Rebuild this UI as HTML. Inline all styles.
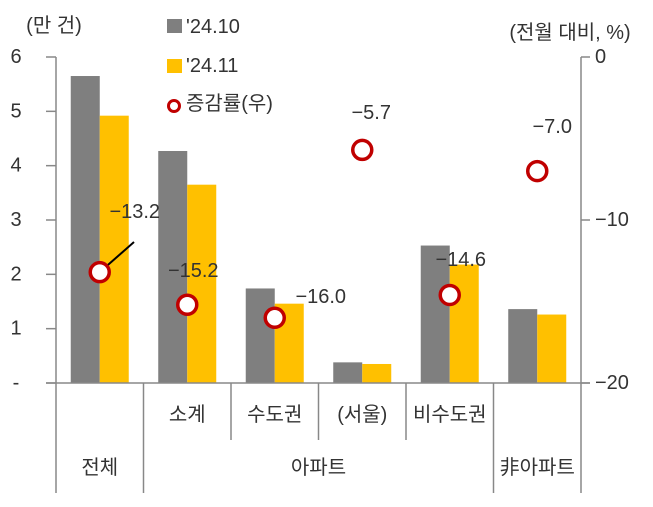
<!DOCTYPE html>
<html><head><meta charset="utf-8"><style>
body{margin:0;background:#fff}
svg{font-family:"Liberation Sans","Noto Sans CJK KR",sans-serif}
</style></head><body>
<svg id="c" width="653" height="502" viewBox="0 0 653 502"></svg>
<script>
const categories=["전체","소계","수도권","(서울)","비수도권","非아파트"];
const oct=[5.65,4.27,1.74,0.38,2.53,1.36];
const nov=[4.92,3.65,1.46,0.35,2.18,1.26];
const rate=[-13.2,-15.2,-16.0,-5.7,-14.6,-7.0];
const leftTicks=["-","1","2","3","4","5","6"];
const rightTicks=["-20","-10","0"];
const rateLabels=["−13.2","−15.2","−16.0","−5.7","−14.6","−7.0"];
const NS="http://www.w3.org/2000/svg";
const svg=document.getElementById('c');
const X0=56,X1=581,Y0=383,Y6=57;
const yL=v=>Y0-(Y0-Y6)*v/6;
const yR=v=>Y6+(Y0-Y6)*(-v)/20;
const gw=(X1-X0)/categories.length;
const gx=i=>X0+gw*i;
function el(t,a,p){const e=document.createElementNS(NS,t);for(const k in a)e.setAttribute(k,a[k]);(p||svg).appendChild(e);return e;}
function tx(x,y,s,anchor,size){const e=el('text',{x:x,y:y,'text-anchor':anchor||'middle','font-size':size||20,fill:'#333','dominant-baseline':'central'});e.textContent=s;return e;}
// bars
for(let i=0;i<categories.length;i++){
 const c=gx(i)+gw/2;
 const b1=el('rect',{x:c-29,y:yL(oct[i]),width:29,height:Y0-yL(oct[i]),fill:'#7f7f7f'});
 
 
 const b2=el('rect',{x:c,y:yL(nov[i]),width:29,height:Y0-yL(nov[i]),fill:'#ffc000'});
 
 
}
// axes
el('line',{x1:X0,y1:Y6,x2:X0,y2:493,stroke:'#888','stroke-width':1.5});
el('line',{x1:X1,y1:Y6,x2:X1,y2:493,stroke:'#888','stroke-width':1.5});
el('line',{x1:46,y1:Y0,x2:X1+9,y2:Y0,stroke:'#888','stroke-width':1.5});
leftTicks.forEach((t,i)=>{const y=yL(i);el('line',{x1:46,y1:y,x2:X0,y2:y,stroke:'#888','stroke-width':1.5});const e=tx(16,y,t);});
rightTicks.forEach((t,i)=>{const v=-20+10*i;const y=yR(v);el('line',{x1:X1,y1:y,x2:X1+9,y2:y,stroke:'#888','stroke-width':1.5});const e=tx(595,y,t.replace('-','−'),'start');});
// separators
[1,5].forEach(i=>el('line',{x1:gx(i),y1:Y0,x2:gx(i),y2:493,stroke:'#888','stroke-width':1.5}));
[2,3,4].forEach(i=>el('line',{x1:gx(i),y1:Y0,x2:gx(i),y2:440,stroke:'#888','stroke-width':1.5}));
// category labels
tx(gx(0)+gw/2,468,categories[0]);
for(let i=1;i<5;i++)tx(gx(i)+gw/2,415,categories[i]);
tx(gx(1)+gw*2,468,"아파트");
tx(gx(5)+gw/2,468,categories[5]);
// leader line
el('line',{x1:gx(0)+gw/2,y1:yR(rate[0]),x2:134,y2:242,stroke:'#000','stroke-width':2});
// circles
const lo=[[20,-60],[-9,-34],[31,-21],[-6,-37],[-4,-35],[0,-44]];
for(let i=0;i<categories.length;i++){
 const c=gx(i)+gw/2,y=yR(rate[i]);
 const p=el('circle',{cx:c,cy:y,r:9.5,fill:'#fff',stroke:'#c00000','stroke-width':3.5});
 
 
 const t=tx(c+lo[i][0]+15,y+lo[i][1],rateLabels[i]);
 
 
}
// titles
const t1=tx(54,26,"(만 건)");
const t2=tx(570,33,"(전월 대비, %)");
// legend
el('rect',{x:167,y:19,width:15,height:14,fill:'#7f7f7f'});
tx(186,27,"'24.10",'start');
el('rect',{x:167,y:59,width:15,height:14,fill:'#ffc000'});
tx(186,66,"'24.11",'start');
el('circle',{cx:174,cy:106,r:5.5,fill:'#fff',stroke:'#c00000','stroke-width':3});
tx(186,104,"증감률(우)",'start');
</script>
</body></html>
